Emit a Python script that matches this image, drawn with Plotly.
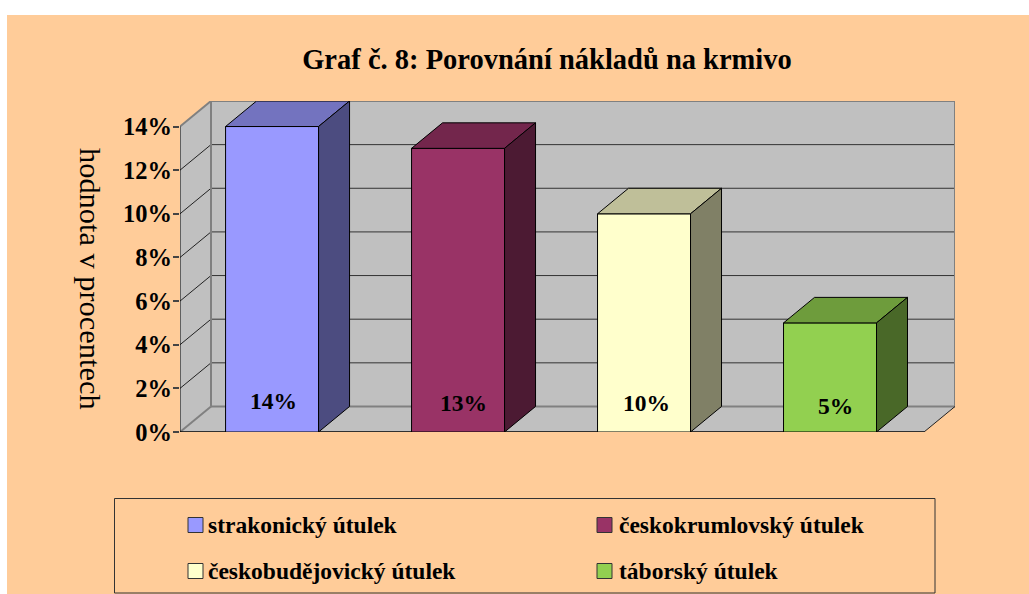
import plotly.graph_objects as go

CATEGORIES = ["strakonický útulek", "českokrumlovský útulek", "českobudějovický útulek", "táborský útulek"]
VALUES = [14, 13, 10, 5]
COLORS = ["#9999FF", "#993366", "#FFFFCC", "#92D050"]
Y_TICKS = [0, 2, 4, 6, 8, 10, 12, 14]
TITLE = "Graf č. 8: Porovnání nákladů na krmivo"
Y_TITLE = "hodnota v procentech"

W, H = 1029, 594
L, R, T, B = 180, 955, 101, 432      # plot rectangle in pixels
X_RANGE = [-0.495, 3.672]
Y_RANGE = [0, 15.17]
DX, DY = 31 / 186, 25.5 / 21.8       # depth of the 3-D projection in axis units
BAR_W = 0.5
FONT = "Liberation Serif"
PEACH = "#FFCC99"
WALL = "#C0C0C0"
EDGE = "#808080"
LEGEND_SWATCH_X = [188, 597, 188, 597]
LEGEND_TEXT_X = [206, 617, 206, 617]
LEGEND_ROW_Y = [525, 525, 571, 571]


def px(v):
    return (v - L) / (R - L)


def py(v):
    return (B - v) / (B - T)


def shade(hex_color, k):
    r, g, b = (int(hex_color[i:i + 2], 16) for i in (1, 3, 5))
    return f"rgb({round(r * k)},{round(g * k)},{round(b * k)})"


x0, x1 = X_RANGE[0], X_RANGE[1] - DX
y_top = max(Y_TICKS)


def poly(pts, fill=None, line=None, width=0, layer="below"):
    path = "M " + " L ".join(f"{a},{b}" for a, b in pts) + " Z"
    return dict(type="path", path=path, xref="x", yref="y", fillcolor=fill or "rgba(0,0,0,0)",
                line=dict(color=line or "rgba(0,0,0,0)", width=width), layer=layer)


def seg(a, b, c, d, color, width):
    return dict(type="line", x0=a, y0=b, x1=c, y1=d, xref="x", yref="y",
                line=dict(color=color, width=width), layer="below")


shapes = [
    dict(type="rect", xref="paper", yref="paper", x0=px(7), x1=px(W), y0=py(H), y1=py(15),
         fillcolor=PEACH, line=dict(width=0), layer="below"),
    dict(type="rect", xref="paper", yref="paper", x0=px(114.5), x1=px(935), y0=py(593), y1=py(498.5),
         fillcolor="rgba(0,0,0,0)", line=dict(color="#333333", width=1), layer="below"),
    poly([(x0, 0), (x0, y_top), (x0 + DX, y_top + DY), (x0 + DX, DY)], WALL),
    poly([(x0 + DX, DY), (x0 + DX, y_top + DY), (x1 + DX, y_top + DY), (x1 + DX, DY)], WALL),
    poly([(x0, 0), (x0 + DX, DY), (x1 + DX, DY), (x1, 0)], WALL),
]
for t in Y_TICKS[1:-1]:
    shapes.append(seg(x0, t, x0 + DX, t + DY, "#222222", 1))
    shapes.append(seg(x0 + DX, t + DY, x1 + DX, t + DY, "#333333", 1))
shapes += [
    seg(x0, y_top, x0 + DX, y_top + DY, EDGE, 2),
    seg(x0 + DX, y_top + DY, x1 + DX, y_top + DY, EDGE, 2),
    seg(x0 + DX, DY, x0 + DX, y_top + DY, EDGE, 2),
    seg(x1 + DX, DY, x1 + DX, y_top + DY, EDGE, 2),
    seg(x0 + DX, DY, x1 + DX, DY, EDGE, 2),
    seg(x0, 0, x0 + DX, DY, EDGE, 2),
    seg(x1, 0, x1 + DX, DY, "#222222", 1),
    seg(x0, 0, x0, y_top, "#000000", 1),
    seg(x0, 0, x1, 0, "#000000", 1.5),
]

fig = go.Figure()
for i, (name, v, c) in enumerate(zip(CATEGORIES, VALUES, COLORS)):
    a, b = i - BAR_W / 2, i + BAR_W / 2
    fig.add_trace(go.Bar(x=[i], y=[v], width=BAR_W, name=name, marker=dict(color=c, line=dict(color="#000000", width=1)),
                         showlegend=False, hoverinfo="skip"))
    fig.add_trace(go.Scatter(x=[a, b, b + DX, a + DX, a], y=[v, v, v + DY, v + DY, v], mode="lines", fill="toself",
                             fillcolor=shade(c, 0.75), line=dict(color="#000000", width=1), showlegend=False, hoverinfo="skip"))
    fig.add_trace(go.Scatter(x=[b, b + DX, b + DX, b, b], y=[0, DY, v + DY, v, 0], mode="lines", fill="toself",
                             fillcolor=shade(c, 0.5), line=dict(color="#000000", width=1), showlegend=False, hoverinfo="skip"))
    # legend entry: swatch + label
    sx, ty = LEGEND_SWATCH_X[i], LEGEND_ROW_Y[i]
    shapes.append(dict(type="rect", xref="paper", yref="paper", x0=px(sx), x1=px(sx + 15), y0=py(ty + 7.5), y1=py(ty - 7.5),
                       fillcolor=c, line=dict(color="#333333", width=1), layer="above"))
    fig.add_annotation(xref="paper", yref="paper", x=px(LEGEND_TEXT_X[i]), y=py(ty), xanchor="left", yanchor="middle",
                       text=f"<b>{name}</b>", showarrow=False, font=dict(family=FONT, size=23.5, color="#000000"))

LABEL_XSHIFT = [1.5, 5, 2.5, 5.5]
LABEL_YSHIFT = [31, 29, 29, 26]
for i, v in enumerate(VALUES):
    fig.add_annotation(x=i, y=0, text=f"<b>{v}%</b>", showarrow=False, xshift=LABEL_XSHIFT[i], yshift=LABEL_YSHIFT[i],
                       font=dict(family=FONT, size=23.5, color="#000000"))
fig.add_annotation(xref="paper", yref="paper", x=px(71), y=py(279), text=Y_TITLE, textangle=90, showarrow=False,
                   font=dict(family=FONT, size=30.4, color="#000000"))

fig.update_layout(
    width=W, height=H, margin=dict(l=L, r=W - R, t=T, b=H - B, autoexpand=False), paper_bgcolor="#FFFFFF", plot_bgcolor="rgba(0,0,0,0)",
    barmode="overlay", shapes=shapes, showlegend=False,
    title=dict(text=f"<b>{TITLE}</b>", x=px(547), xref="paper", xanchor="center", y=1 - 59 / H, yref="container", yanchor="middle",
               font=dict(family=FONT, size=28.5, color="#000000")),
    xaxis=dict(range=X_RANGE, showgrid=False, zeroline=False, showticklabels=False, ticks="", showline=False),
    yaxis=dict(range=Y_RANGE, tickvals=Y_TICKS, ticktext=[f"{t}%" for t in Y_TICKS], showgrid=False, zeroline=False,
               showline=False, ticks="outside", ticklen=6, tickcolor="#444444", tickwidth=1.5, ticklabelstandoff=-4,
               tickfont=dict(family=FONT, size=24.5, color="#000000", weight="bold")),
)
fig.write_html("out.html", config=dict(displayModeBar=False), post_script="document.body.style.margin='0';document.documentElement.style.overflow='hidden';")
